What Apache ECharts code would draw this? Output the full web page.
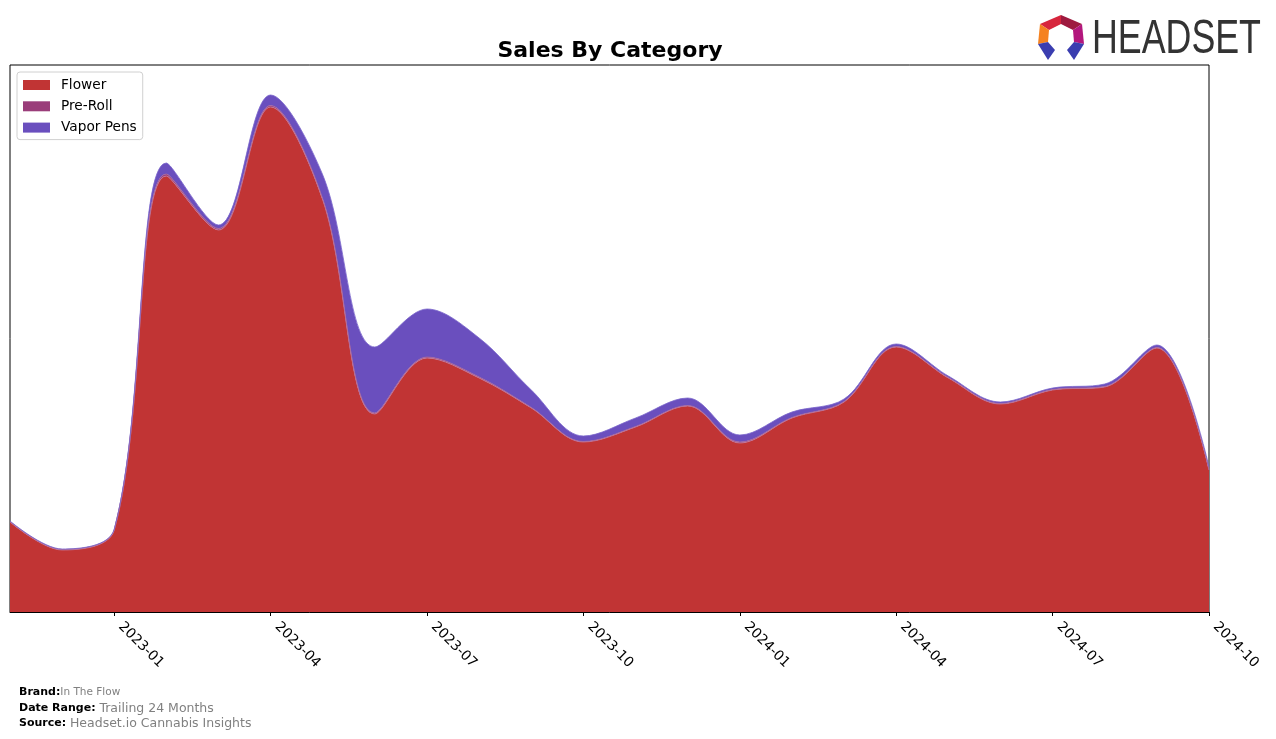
<!DOCTYPE html>
<html>
<head>
<meta charset="utf-8">
<script src="https://cdn.jsdelivr.net/npm/echarts@6/dist/echarts.min.js"></script>
<style>
html,body{margin:0;padding:0;background:#fff;}
#chart{width:1276px;height:739px;}
</style>
</head>
<body>
<div id="chart"></div>
<script>
const months = ["2022-11","2022-12","2023-01","2023-02","2023-03","2023-04","2023-05","2023-06","2023-07","2023-08","2023-09","2023-10","2023-11","2023-12","2024-01","2024-02","2024-03","2024-04","2024-05","2024-06","2024-07","2024-08","2024-09","2024-10"];
const flower = [90,62,82,436,382,505,412,198,254,234,204,170,185,206,169,194,210,265,234,208,222,225,264,142];
const preRoll = [0.5,0.5,0.5,2,1.5,1.5,1,1,1,1,0.5,0.5,0.5,0.5,1,0.5,0.5,0.5,0.5,0.5,0.5,0.5,0.5,0.5];
const vaporPens = [0.5,0.5,0.5,11,3.5,10.5,24,66,48,39,17.5,5.5,8.5,7.5,7,5.5,2.5,2.5,1.5,1.5,1.5,2.5,2.5,2.5];
const seriesNames = ["Flower","Pre-Roll","Vapor Pens"];
const seriesColors = ["#c13434","#9a3d7a","#6a4fbe"];
const edgeColors = ["#c77a9c","#a9689a","#7a66cc"];
const yMax = 547;

const chart = echarts.init(document.getElementById('chart'));
const dataSets = [flower, preRoll, vaporPens];
const series = dataSets.map((d, i) => ({
  name: seriesNames[i],
  type: 'line',
  stack: 'total',
  smooth: 0.35,
  symbol: 'none',
  data: d,
  itemStyle: {color: seriesColors[i]},
  lineStyle: {width: 0.8, color: edgeColors[i]},
  areaStyle: {color: seriesColors[i], opacity: 1},
  emphasis: {disabled: true}
}));

const option = {
  animation: false,
  backgroundColor: '#fff',
  textStyle: {fontFamily: 'DejaVu Sans'},
  title: {
    text: 'Sales By Category',
    left: 605, top: 35, textAlign: 'center',
    textStyle: {fontFamily: 'DejaVu Sans', fontSize: 22, fontWeight: 'bold', color: '#000'}
  },
  legend: {
    orient: 'vertical',
    left: 17, top: 72,
    padding: [6, 6, 5, 6],
    itemWidth: 27, itemHeight: 10, itemGap: 7.3,
    icon: 'rect',
    backgroundColor: '#fff',
    borderColor: '#d0d0d0', borderWidth: 1, borderRadius: 3,
    textStyle: {fontFamily: 'DejaVu Sans', fontSize: 13.7, color: '#000', padding: [0,0,0,6]},
    data: seriesNames.map((n, i) => ({name: n, itemStyle: {color: seriesColors[i]}}))
  },
  grid: {
    left: 10, right: 67, top: 65, bottom: 127,
    show: true, borderColor: '#000', borderWidth: 1, backgroundColor: 'transparent'
  },
  xAxis: {
    type: 'category',
    data: months,
    boundaryGap: false,
    axisLine: {show: true, lineStyle: {color: '#000', width: 1}},
    axisTick: {show: true, length: 4, lineStyle: {color: '#000'}, interval: (i) => i % 3 === 2},
    axisLabel: {
      interval: (i) => i % 3 === 2,
      rotate: -45, margin: 6,
      padding: [0, 0, 0, 9],
      fontFamily: 'DejaVu Sans', fontSize: 13.9, color: '#000',
      showMaxLabel: true
    },
    splitLine: {show: false}
  },
  yAxis: {
    type: 'value', min: 0, max: yMax,
    show: false, splitLine: {show: false}
  },
  series: series,
  graphic: [
    {type: 'polygon', shape: {points: [[1040,24],[1061,15],[1061,24],[1049,30]]}, style: {fill: '#d7263d'}},
    {type: 'polygon', shape: {points: [[1061,15],[1082,24],[1073,30],[1061,24]]}, style: {fill: '#9e1a3f'}},
    {type: 'polygon', shape: {points: [[1040,24],[1049,30],[1048,42],[1038,44]]}, style: {fill: '#f58220'}},
    {type: 'polygon', shape: {points: [[1082,24],[1084,44],[1074,42],[1073,30]]}, style: {fill: '#b3177d'}},
    {type: 'polygon', shape: {points: [[1038,44],[1048,42],[1055,50],[1048,60]]}, style: {fill: '#3a3db0'}},
    {type: 'polygon', shape: {points: [[1084,44],[1074,42],[1067,50],[1074,60]]}, style: {fill: '#3a3db0'}},
    {type: 'text', left: 1092, top: 15, scaleX: 0.73,
      style: {text: 'HEADSET', fill: '#333', font: '49px "Liberation Sans"'}},
    {type: 'text', left: 19, top: 687,
      style: {rich: {b: {fontFamily: 'DejaVu Sans', fontWeight: 'bold', fontSize: 11, fill: '#000'}, v: {fontFamily: 'DejaVu Sans', fontSize: 10.5, fill: '#808080'}},
        text: '{b|Brand:}{v|In The Flow}'}},
    {type: 'text', left: 19, top: 702,
      style: {rich: {b: {fontFamily: 'DejaVu Sans', fontWeight: 'bold', fontSize: 11, fill: '#000'}, v: {fontFamily: 'DejaVu Sans', fontSize: 12.5, fill: '#808080'}},
        text: '{b|Date Range: }{v|Trailing 24 Months}'}},
    {type: 'text', left: 19, top: 717,
      style: {rich: {b: {fontFamily: 'DejaVu Sans', fontWeight: 'bold', fontSize: 11, fill: '#000'}, v: {fontFamily: 'DejaVu Sans', fontSize: 12.5, fill: '#808080'}},
        text: '{b|Source: }{v|Headset.io Cannabis Insights}'}}
  ]
};
chart.setOption(option);
</script>
</body>
</html>
